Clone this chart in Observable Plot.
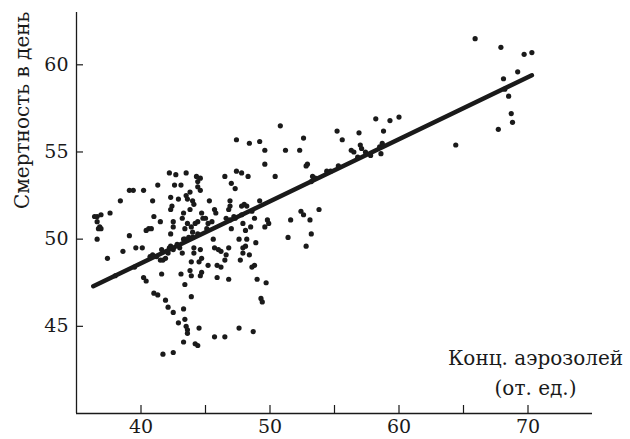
<!DOCTYPE html>
<html>
<head>
<meta charset="utf-8">
<script src="https://cdn.jsdelivr.net/npm/d3@7"></script>
<script src="https://cdn.jsdelivr.net/npm/@observablehq/plot@0.6"></script>
<style>
  html, body { margin: 0; padding: 0; background: #fff; }
</style>
</head>
<body>
<div id="chart"></div>
<script>
// --- data ---
const aerosol = [
  65.9, 67.9, 69.7, 70.3, 69.2, 68.1, 68.2, 68.5, 68.7, 68.8, 67.7, 64.4,
  60.0, 59.3, 58.2, 58.8, 58.7, 58.6, 57.8, 57.4, 56.9, 57.0, 57.1, 56.3, 56.5, 55.6, 55.2,
  54.7, 53.8, 53.3, 53.2, 52.9, 52.8, 52.6, 52.3, 53.1, 53.2, 52.4, 52.6, 52.8, 51.6, 51.4, 51.2, 50.8, 50.4,
  49.6, 49.6, 49.2, 48.4, 47.4, 49.2, 49.8, 49.9, 49.6, 49.7, 49.3, 49.4, 49.0, 48.7, 48.8, 48.6, 48.4, 48.9, 48.5, 48.8, 48.3,
  47.4, 47.8, 47.3, 47.0, 46.9, 46.9, 46.8, 46.6, 46.9, 47.0, 47.3, 47.8, 48.0, 48.2, 47.8, 47.9, 48.1, 47.6, 47.9, 48.1, 47.9, 47.7, 48.2, 46.8, 46.8, 46.5, 47.6, 46.5, 45.7,
  46.6, 46.5, 46.2, 45.9, 46.2, 45.9, 45.6, 45.7, 46.0, 45.2, 45.7, 45.8, 45.3, 45.0, 45.2, 45.5,
  44.7, 44.8, 44.6, 44.6, 44.4, 44.4, 44.3, 43.8, 44.0, 44.1, 43.8, 44.4, 44.2, 44.4, 44.1, 44.1, 44.6, 44.7, 44.5, 44.7, 44.6, 43.9,
  43.5, 43.6, 43.5, 43.3, 43.2, 43.6, 43.9, 43.4, 44.0, 43.1, 42.9, 42.6, 42.3, 42.5, 42.5, 42.4, 42.3, 42.3, 42.2, 42.7,
  43.0, 43.2, 43.3, 43.7, 42.2, 42.5, 42.1, 41.9, 41.6, 41.7, 41.6, 41.9, 42.1, 42.5, 43.3, 42.9, 43.4, 43.5, 43.6, 43.6,
  43.3, 44.2, 44.4, 44.5, 43.9, 43.4, 43.1, 43.9, 43.8, 41.7, 42.5,
  41.0, 41.3, 40.2, 40.4, 40.4, 40.6, 40.8, 41.0, 41.5, 40.9, 41.3, 40.2, 39.4, 39.1, 38.4, 39.1, 39.6, 40.1, 38.6, 37.4,
  37.6, 36.9, 36.6, 36.4, 36.6, 36.8, 36.7, 36.9, 36.6, 40.7, 40.9, 41.5,
  42.3, 42.8, 43.4, 44.0, 45.1, 47.2, 54.4, 55.3, 56.8, 58.5, 53.5, 48.6, 38.0, 39.5, 41.2
];
const mortality = [
  61.5, 61.0, 60.6, 60.7, 59.6, 59.2, 58.6, 58.2, 57.2, 56.7, 56.3, 55.4,
  57.0, 56.8, 56.9, 56.2, 55.5, 54.9, 54.8, 55.0, 56.1, 55.4, 55.2, 55.1, 55.0, 55.7, 56.2,
  53.9, 51.7, 53.6, 53.3, 54.3, 54.2, 55.8, 55.1, 51.1, 50.3, 51.6, 51.4, 49.6, 51.1, 50.1, 55.1, 56.5, 53.6,
  55.1, 54.3, 55.6, 55.5, 55.7, 52.2, 51.1, 50.9, 50.7, 47.5, 46.6, 46.4, 47.7, 44.7, 48.5, 48.4, 49.1, 49.8, 50.7, 51.2, 53.6,
  53.9, 53.8, 52.9, 53.2, 52.2, 51.9, 51.7, 51.2, 51.1, 50.6, 51.2, 51.9, 52.0, 51.9, 51.4, 50.9, 50.5, 50.0, 49.5, 49.6, 49.2, 48.8, 50.0, 49.5, 47.7, 53.6, 44.9, 44.4, 44.4,
  49.1, 48.8, 49.3, 48.5, 48.4, 47.8, 50.0, 49.5, 49.4, 48.5, 51.7, 51.5, 52.2, 51.2, 50.9, 51.0,
  51.5, 51.2, 53.5, 52.8, 53.3, 53.0, 53.6, 52.7, 52.2, 52.0, 51.7, 51.0, 50.9, 50.3, 49.5, 49.2, 49.4, 48.9, 48.7, 48.1, 47.9, 47.9,
  52.5, 52.3, 53.8, 51.5, 51.2, 50.9, 50.7, 50.6, 50.4, 53.1, 52.3, 53.1, 52.4, 51.0, 50.7, 51.9, 51.7, 50.3, 53.8, 53.7,
  49.5, 49.2, 50.0, 50.1, 49.5, 49.4, 49.2, 48.9, 49.4, 48.8, 48.0, 46.5, 46.1, 45.8, 46.0, 45.2, 45.4, 45.0, 44.8, 44.6,
  44.1, 44.0, 43.9, 44.9, 46.7, 47.4, 48.0, 48.7, 48.2, 43.4, 43.5,
  46.9, 46.8, 47.8, 47.6, 50.5, 50.6, 50.6, 51.3, 51.0, 52.2, 53.1, 52.8, 52.8, 52.8, 52.2, 50.2, 49.5, 49.5, 49.3, 48.9,
  51.5, 51.4, 51.3, 51.3, 51.0, 50.7, 50.6, 50.6, 50.0, 49.0, 49.1, 48.8,
  49.6, 49.7, 50.0, 50.1, 50.6, 51.3, 53.9, 54.2, 54.7, 55.3, 53.5, 51.6, 47.9, 48.4, 49.0
];
// fitted regression line end points
const fitX = [36.3, 70.3];
const fitY = [47.3, 59.4];
// tick values and text
const xMinorTicks = [40, 45, 50, 55, 60, 65, 70];
const xLabelTicks = [40, 50, 60, 70];
const yTicks = [45, 50, 55, 60];
const yTitle = "Смертность в день";
const xTitle = "Конц. аэрозолей\n(от. ед.)";

const points = aerosol.map((a, i) => ({a, m: mortality[i]}));
const fit = fitX.map((a, i) => ({a, m: fitY[i]}));
const ink = "#1a1a1a";

const chart = Plot.plot({
  width: 630,
  height: 439,
  marginLeft: 76,
  marginRight: 38,
  marginTop: 12,
  marginBottom: 26,
  x: {domain: [35, 75]},
  y: {domain: [40, 63]},
  style: {fontFamily: "'DejaVu Serif', serif", fontSize: "19px", color: ink, background: "#fff", overflow: "visible"},
  marks: [
    Plot.ruleX([35], {stroke: ink, strokeWidth: 1.3}),
    Plot.ruleY([40], {stroke: ink, strokeWidth: 1.3}),
    Plot.axisX(xMinorTicks, {tickSize: 8, dy: -8, fill: "none", label: null, strokeWidth: 1.2}),
    Plot.axisX(xLabelTicks, {tickSize: 0, tickPadding: 6, label: null, fill: ink, fontSize: 19}),
    Plot.axisY(yTicks, {tickSize: 7, dx: 7, fill: "none", label: null, strokeWidth: 1.2}),
    Plot.axisY(yTicks, {tickSize: 0, tickPadding: 8, label: null, fill: ink, fontSize: 19}),
    Plot.dot(points, {x: "a", y: "m", r: 2.6, fill: ink, stroke: null}),
    Plot.line(fit, {x: "a", y: "m", stroke: ink, strokeWidth: 4.5, strokeLinecap: "round"}),
    Plot.text([yTitle], {text: d => d, frameAnchor: "left", rotate: -90, dx: -54, dy: -4, fill: ink, fontSize: 20}),
    Plot.text([xTitle], {text: d => d, frameAnchor: "bottom-right", textAnchor: "middle", lineAnchor: "middle", lineHeight: 1.5, dx: -57, dy: -43, fill: ink, fontSize: 20})
  ]
});
document.getElementById("chart").appendChild(chart);
</script>
</body>
</html>
